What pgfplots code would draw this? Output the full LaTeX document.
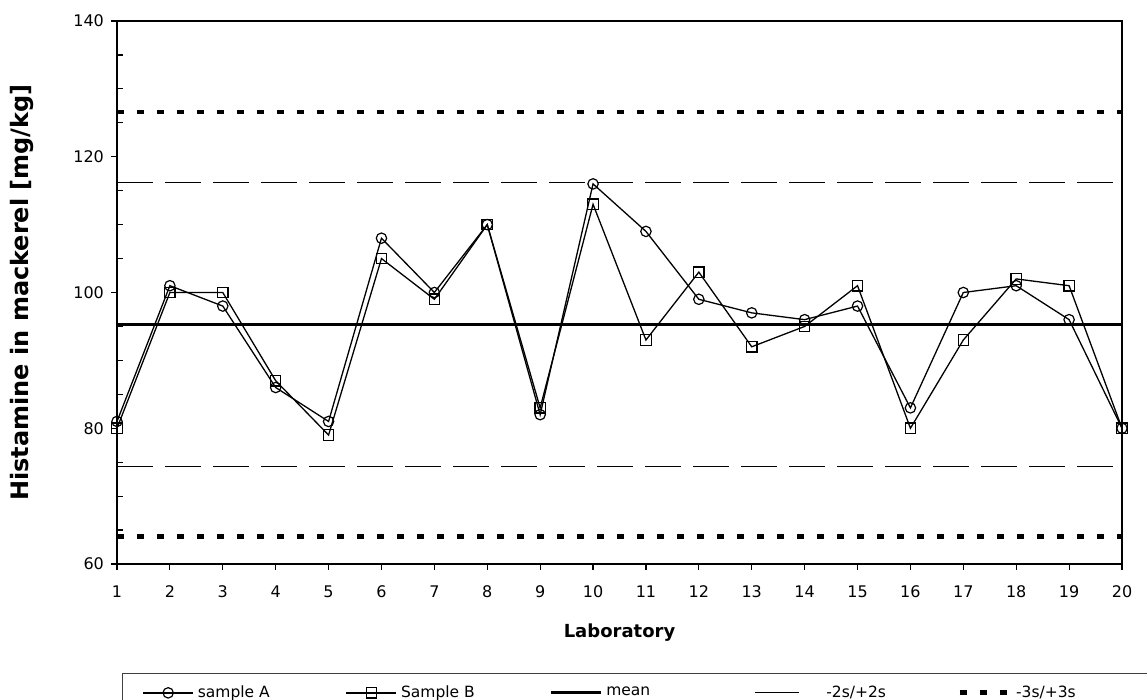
\documentclass[border=0pt]{standalone}
\usepackage{pgfplots}
\pgfplotsset{compat=1.18}
\usepackage{fontspec}
\setmainfont{DejaVu Sans}
\pgfplotsset{solidlegend/.style={legend image code/.code={\draw[##1, solid] (0pt,0pt) -- (22pt,0pt);}}}
\begin{document}
\begin{tikzpicture}[x=1pt,y=1pt]
\path[use as bounding box] (-58.5,-68) rectangle (515,282);
\begin{axis}[
  at={(0,0)}, anchor=south west,
  scale only axis, width=502.5pt, height=271.5pt,
  xmin=1, xmax=20, ymin=60, ymax=140,
  xtick={1,...,20}, ytick={60,80,...,140},
  xtick pos=bottom, ytick pos=left,
  extra y ticks={65,70,75,85,90,95,105,110,115,125,130,135},
  extra y tick labels={},
  extra y tick style={tick align=inside, major tick length=3pt},
  tick align=outside, major tick length=3pt,
  tick style={black, line width=0.6pt},
  axis line style={line width=0.8pt},
  tick label style={font=\fontsize{8}{9}\selectfont},
  xticklabel style={yshift=-4.5pt},
  /pgf/number format/assume math mode=true,
  xlabel={\textbf{Laboratory}},
  ylabel={\textbf{Histamine in mackerel [mg/kg]}},
  xlabel style={font=\fontsize{9}{10}\selectfont, yshift=-6pt},
  ylabel style={font=\fontsize{12}{13}\selectfont, yshift=10pt},
  legend columns=5,
  legend cell align=left,
  legend style={at={(rel axis cs:0.005,-0.2007)}, anchor=north west,
    draw=black!75, line width=0.5pt, font=\fontsize{7.75}{9}\selectfont,
    inner xsep=10pt, inner ysep=4pt,
    /tikz/every even column/.append style={column sep=0pt}},
  legend image code/.code={\draw[mark repeat=2,mark phase=2,#1] plot coordinates {(0pt,0pt)(12.5pt,0pt)(25pt,0pt)};},
]
\addplot[black, line width=0.65pt, mark=o, mark size=2.6pt, mark options={fill=white, line width=0.6pt}] coordinates {
(1,81)(2,101)(3,98)(4,86)(5,81)(6,108)(7,100)(8,110)(9,82)(10,116)
(11,109)(12,99)(13,97)(14,96)(15,98)(16,83)(17,100)(18,101)(19,96)(20,80)};
\addlegendentry{\makebox[72pt][l]{sample A}}
\addplot[black, line width=0.65pt, mark=square, mark size=2.6pt, mark options={fill=white, line width=0.6pt}] coordinates {
(1,80)(2,100)(3,100)(4,87)(5,79)(6,105)(7,99)(8,110)(9,83)(10,113)
(11,93)(12,103)(13,92)(14,95)(15,101)(16,80)(17,93)(18,102)(19,101)(20,80)};
\addlegendentry{\makebox[72pt][l]{Sample B}}
\addplot[black, line width=1.6pt, no markers] coordinates {(1,95.3)(20,95.3)};
\addlegendentry{\makebox[72pt][l]{mean}}
\addplot[black, line width=0.5pt, no markers, dash pattern=on 18pt off 6pt, forget plot] coordinates {(1,116.2)(20,116.2)};
\addplot[black, line width=0.5pt, no markers, dash pattern=on 18pt off 6pt, solidlegend] coordinates {(1,74.4)(20,74.4)};
\addlegendentry{\hspace{11.5pt}\makebox[63.5pt][l]{-2s/+2s}}
\addplot[black, line width=2.4pt, no markers, dash pattern=on 3.4pt off 6.6pt, forget plot] coordinates {(1,126.6)(20,126.6)};
\addplot[black, line width=2.4pt, no markers, dash pattern=on 3.4pt off 6.6pt] coordinates {(1,64.0)(20,64.0)};
\addlegendentry{\makebox[60pt][l]{-3s/+3s}}
\end{axis}
\end{tikzpicture}
\end{document}
